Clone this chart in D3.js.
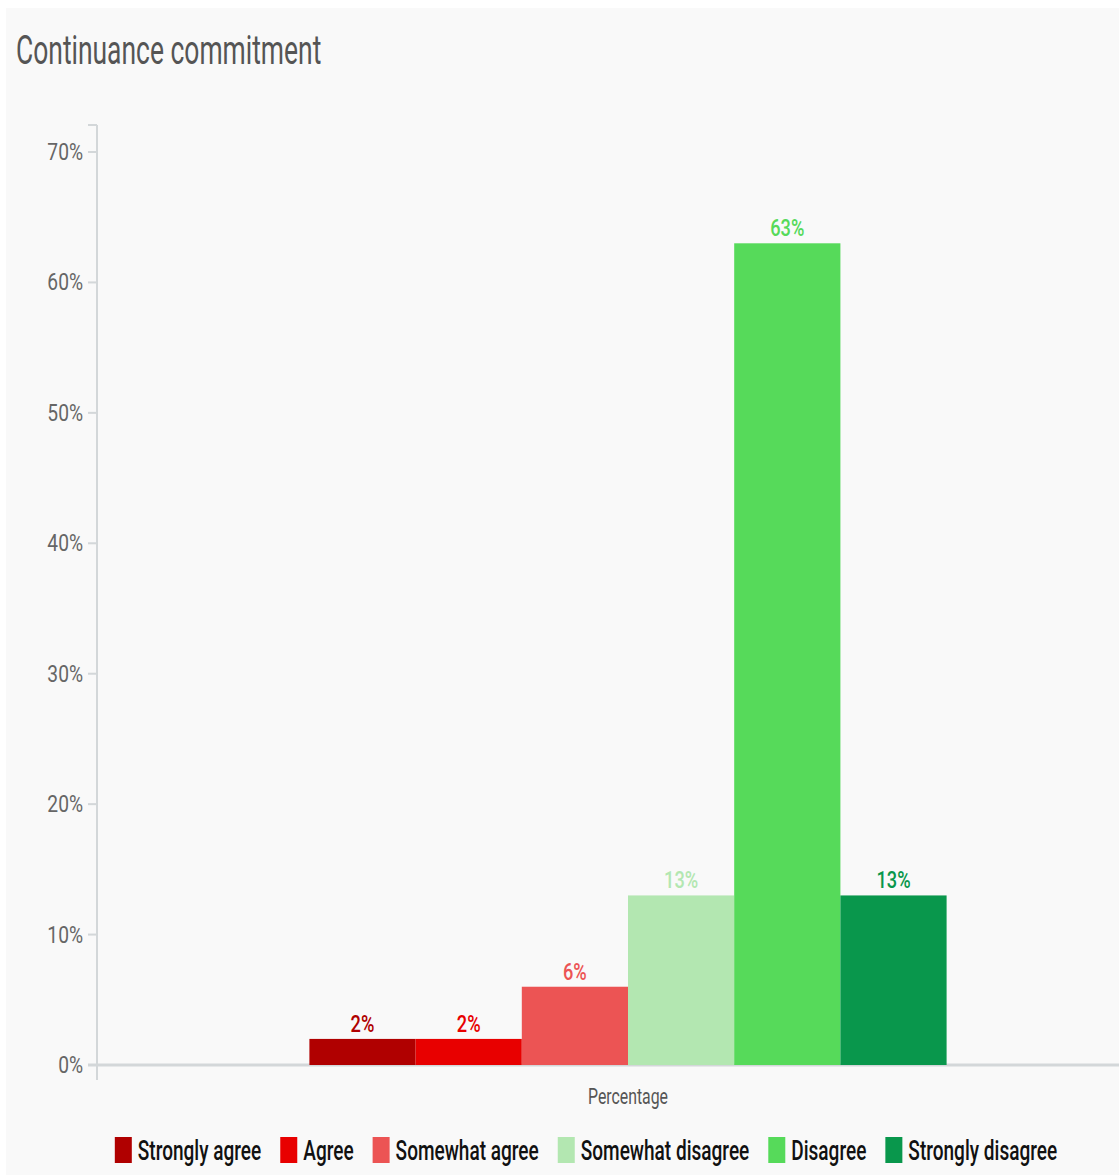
<!DOCTYPE html>
<html>
<head>
<meta charset="utf-8">
<script src="https://cdn.jsdelivr.net/npm/d3@7"></script>
<style>
  html, body { margin: 0; padding: 0; background: #ffffff; }
  svg { display: block; }
  text { font-family: Roboto, "Noto Sans", sans-serif; }
</style>
</head>
<body>
<svg id="chart" width="1119" height="1175"></svg>
<script>
// Survey responses for one item
const categories = ["Strongly agree", "Agree", "Somewhat agree", "Somewhat disagree", "Disagree", "Strongly disagree"];
const values = [2, 2, 6, 13, 63, 13];
const colors = ["#b00000", "#e80000", "#ec5454", "#b3e7b1", "#56da5a", "#09974c"];
const groups = ["Percentage"];
const yTicks = [0, 10, 20, 30, 40, 50, 60, 70];
const title = "Continuance commitment";

const svg = d3.select("#chart");
const W = 1119, H = 1175;

// panel background
svg.append("rect").attr("x", 6).attr("y", 8).attr("width", W - 6).attr("height", H - 8).attr("fill", "#f9f9f9");

// text is drawn in a horizontally condensed form
function placeText(sel, x, y, sx) {
  return sel.attr("transform", `translate(${x},${y}) scale(${sx},1)`);
}

placeText(svg.append("text"), 16, 64, 0.645)
  .attr("font-size", 41).attr("fill", "#555555").text(title);

const plot = { left: 97, right: 1159, top: 125, bottom: 1065 };

const y = d3.scaleLinear().domain([0, 70]).range([plot.bottom, 152]);
const x0 = d3.scaleBand().domain(groups).range([plot.left, plot.right]).padding(0.25);
const x1 = d3.scaleBand().domain(categories).range([0, x0.bandwidth()]).padding(0);

// y axis line
svg.append("line").attr("x1", plot.left).attr("x2", plot.left)
  .attr("y1", plot.top).attr("y2", 1080)
  .attr("stroke", "#d3d7d9").attr("stroke-width", 2);
// top cap of axis
svg.append("line").attr("x1", 88).attr("x2", plot.left).attr("y1", plot.top).attr("y2", plot.top)
  .attr("stroke", "#d3d7d9").attr("stroke-width", 2);

// y ticks and labels
const yAxisG = svg.append("g");
yTicks.forEach(t => {
  yAxisG.append("line").attr("x1", 88).attr("x2", plot.left)
    .attr("y1", y(t)).attr("y2", y(t))
    .attr("stroke", "#d3d7d9").attr("stroke-width", 2);
  placeText(yAxisG.append("text"), 83, y(t) + 8, 0.8)
    .attr("text-anchor", "end").attr("font-size", 24).attr("fill", "#666666")
    .text(t + "%");
});

// x baseline
svg.append("line").attr("x1", 88).attr("x2", W).attr("y1", plot.bottom).attr("y2", plot.bottom)
  .attr("stroke", "#d3d7d9").attr("stroke-width", 3);

// bars
const g = svg.append("g").attr("transform", `translate(${x0("Percentage")},0)`);
const data = categories.map((c, i) => ({ c, v: values[i], col: colors[i] }));

g.selectAll("rect.bar").data(data).join("rect")
  .attr("class", "bar")
  .attr("x", d => x1(d.c))
  .attr("width", x1.bandwidth())
  .attr("y", d => y(d.v))
  .attr("height", d => plot.bottom - y(d.v))
  .attr("fill", d => d.col);

g.selectAll("text.val").data(data).join("text")
  .attr("class", "val")
  .attr("transform", d => `translate(${x1(d.c) + x1.bandwidth() / 2},${y(d.v) - 7}) scale(0.76,1)`)
  .attr("text-anchor", "middle")
  .attr("font-size", 24).attr("font-weight", 500)
  .attr("fill", d => d.col)
  .text(d => d.v + "%");

// x axis label
placeText(svg.append("text"), x0("Percentage") + x0.bandwidth() / 2, 1104, 0.72)
  .attr("text-anchor", "middle").attr("font-size", 22).attr("fill", "#555555")
  .text("Percentage");

// legend
const LSX = 0.68;
const legend = svg.append("g");
let cx = 0;
data.forEach(d => {
  const it = legend.append("g");
  it.append("rect").attr("x", 0).attr("y", 1137).attr("width", 17).attr("height", 26).attr("fill", d.col);
  const t = placeText(it.append("text"), 23, 1160, LSX)
    .attr("font-size", 28).attr("font-weight", 500).attr("fill", "#111111").text(d.c);
  const w = 23 + t.node().getComputedTextLength() * LSX;
  it.attr("transform", `translate(${cx},0)`);
  cx += w + 19;
});
const total = cx - 19;
legend.attr("transform", `translate(${586 - total / 2},0)`);
</script>
</body>
</html>
